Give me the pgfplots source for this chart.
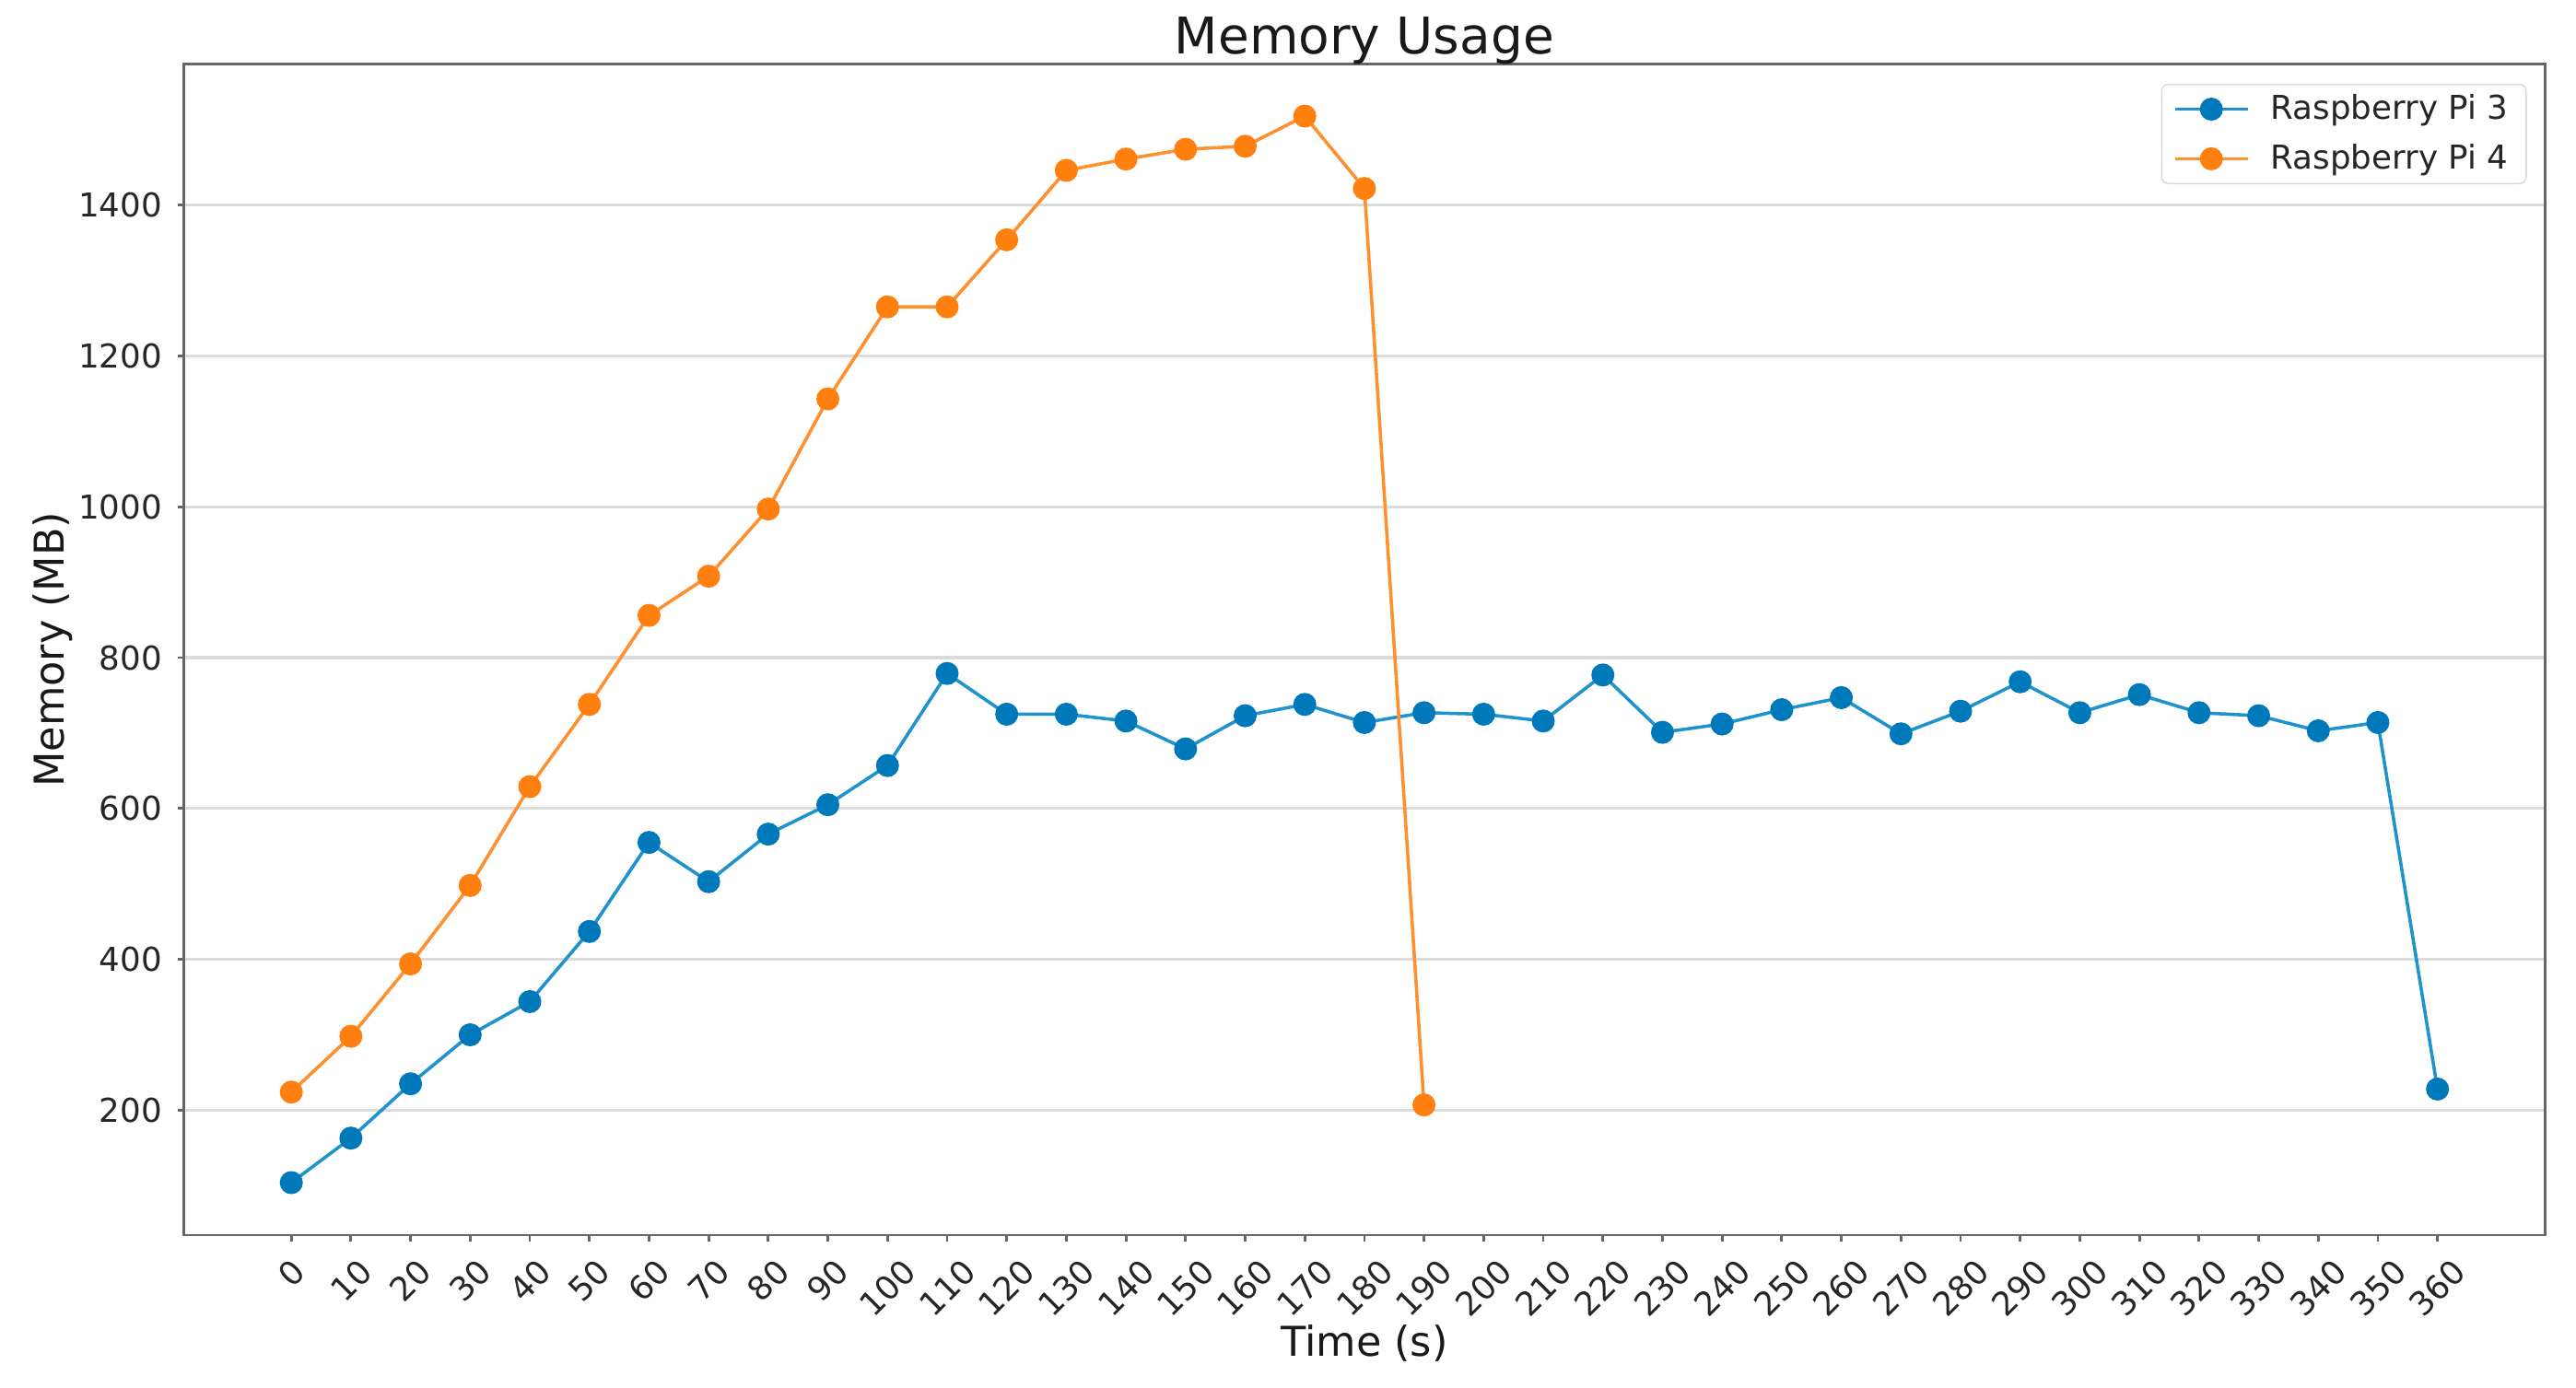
\documentclass[border=0pt]{standalone}
\usepackage{fontspec}
\setmainfont{DejaVu Sans}
\usepackage{graphicx}
\usepackage{pgfplots}
\pgfplotsset{compat=1.18}
\definecolor{piblue}{HTML}{0079BA}
\definecolor{piorange}{HTML}{FF800E}
\definecolor{pibluel}{HTML}{1E93CE}
\definecolor{piorangel}{HTML}{FF9030}
\pgfplotstableread{
t mem
0 104
10 163
20 235
30 300
40 344
50 437
60 555
70 503
80 566
90 605
100 657
110 779
120 725
130 725
140 716
150 679
160 723
170 738
180 714
190 727
200 725
210 716
220 777
230 701
240 712
250 731
260 747
270 699
280 729
290 768
300 727
310 751
320 727
330 723
340 703
350 714
360 228
}\pithree
\pgfplotstableread{
t mem
0 224
10 298
20 394
30 498
40 629
50 738
60 856
70 908
80 997
90 1143
100 1265
110 1265
120 1354
130 1446
140 1461
150 1474
160 1478
170 1518
180 1422
190 207
}\pifour
\begin{document}
\begin{tikzpicture}
\useasboundingbox (0,0) rectangle (784pt,422.5pt);
\begin{axis}[
  at={(56pt,46.5pt)}, anchor=south west,
  scale only axis, width=718.5pt, height=356.5pt,
  xmin=-18, xmax=378, ymin=34.5, ymax=1587,
  xtick={0,10,...,360}, ytick={200,400,...,1400},
  /pgf/number format/assume math mode=true,
  /pgf/number format/1000 sep={},
  xticklabel={\rotatebox{45}{\pgfmathprintnumber{\tick}}},
  xticklabel style={anchor=north, inner sep=0pt, yshift=-4.5pt, font=\fontsize{10}{12}\selectfont, text=black!85},
  yticklabel style={anchor=east, inner sep=0pt, xshift=-4.5pt, font=\fontsize{10}{12}\selectfont, text=black!85},
  xtick pos=bottom, ytick pos=left,
  tick align=outside, major tick length=2pt,
  tick style={black!60, line width=0.8pt},
  axis line style={black!60, line width=0.8pt},
  ymajorgrids, grid style={black!14, line width=0.9pt},
  title={Memory Usage},
  title style={at={(axis description cs:0.5,1)}, anchor=base, yshift=-3pt, font=\fontsize{15.4}{18}\selectfont, text=black!90},
  xlabel={Time (s)},
  xlabel style={at={(axis description cs:0.5,0)}, anchor=base, yshift=-37pt, font=\fontsize{12.5}{15}\selectfont, text=black!90},
  ylabel={Memory (MB)},
  ylabel style={at={(axis description cs:-0.0557,0.5)}, anchor=center, rotate=0, font=\fontsize{12.5}{15}\selectfont, text=black!90},
  legend style={at={(axis description cs:1,1)}, anchor=north east, xshift=-5.5pt, yshift=-6pt,
    draw=black!15, rounded corners=2pt, font=\fontsize{10}{12}\selectfont, text=black!85,
    row sep=2pt, column sep=4.5pt, inner xsep=3.5pt, inner ysep=1pt},
  legend cell align=left,
  legend image code/.code={\draw[mark repeat=2,mark phase=2] plot coordinates {(0cm,0cm) (0.39cm,0cm) (0.78cm,0cm)};},
]
\addplot[pibluel, line width=1pt, mark=*, mark size=3pt, mark options={solid, fill=piblue, draw=piblue}] table[x=t, y=mem] {\pithree};
\addlegendentry{Raspberry Pi 3}
\addplot[piorangel, line width=1pt, mark=*, mark size=3pt, mark options={solid, fill=piorange, draw=piorange}] table[x=t, y=mem] {\pifour};
\addlegendentry{Raspberry Pi 4}
\end{axis}
\end{tikzpicture}
\end{document}
